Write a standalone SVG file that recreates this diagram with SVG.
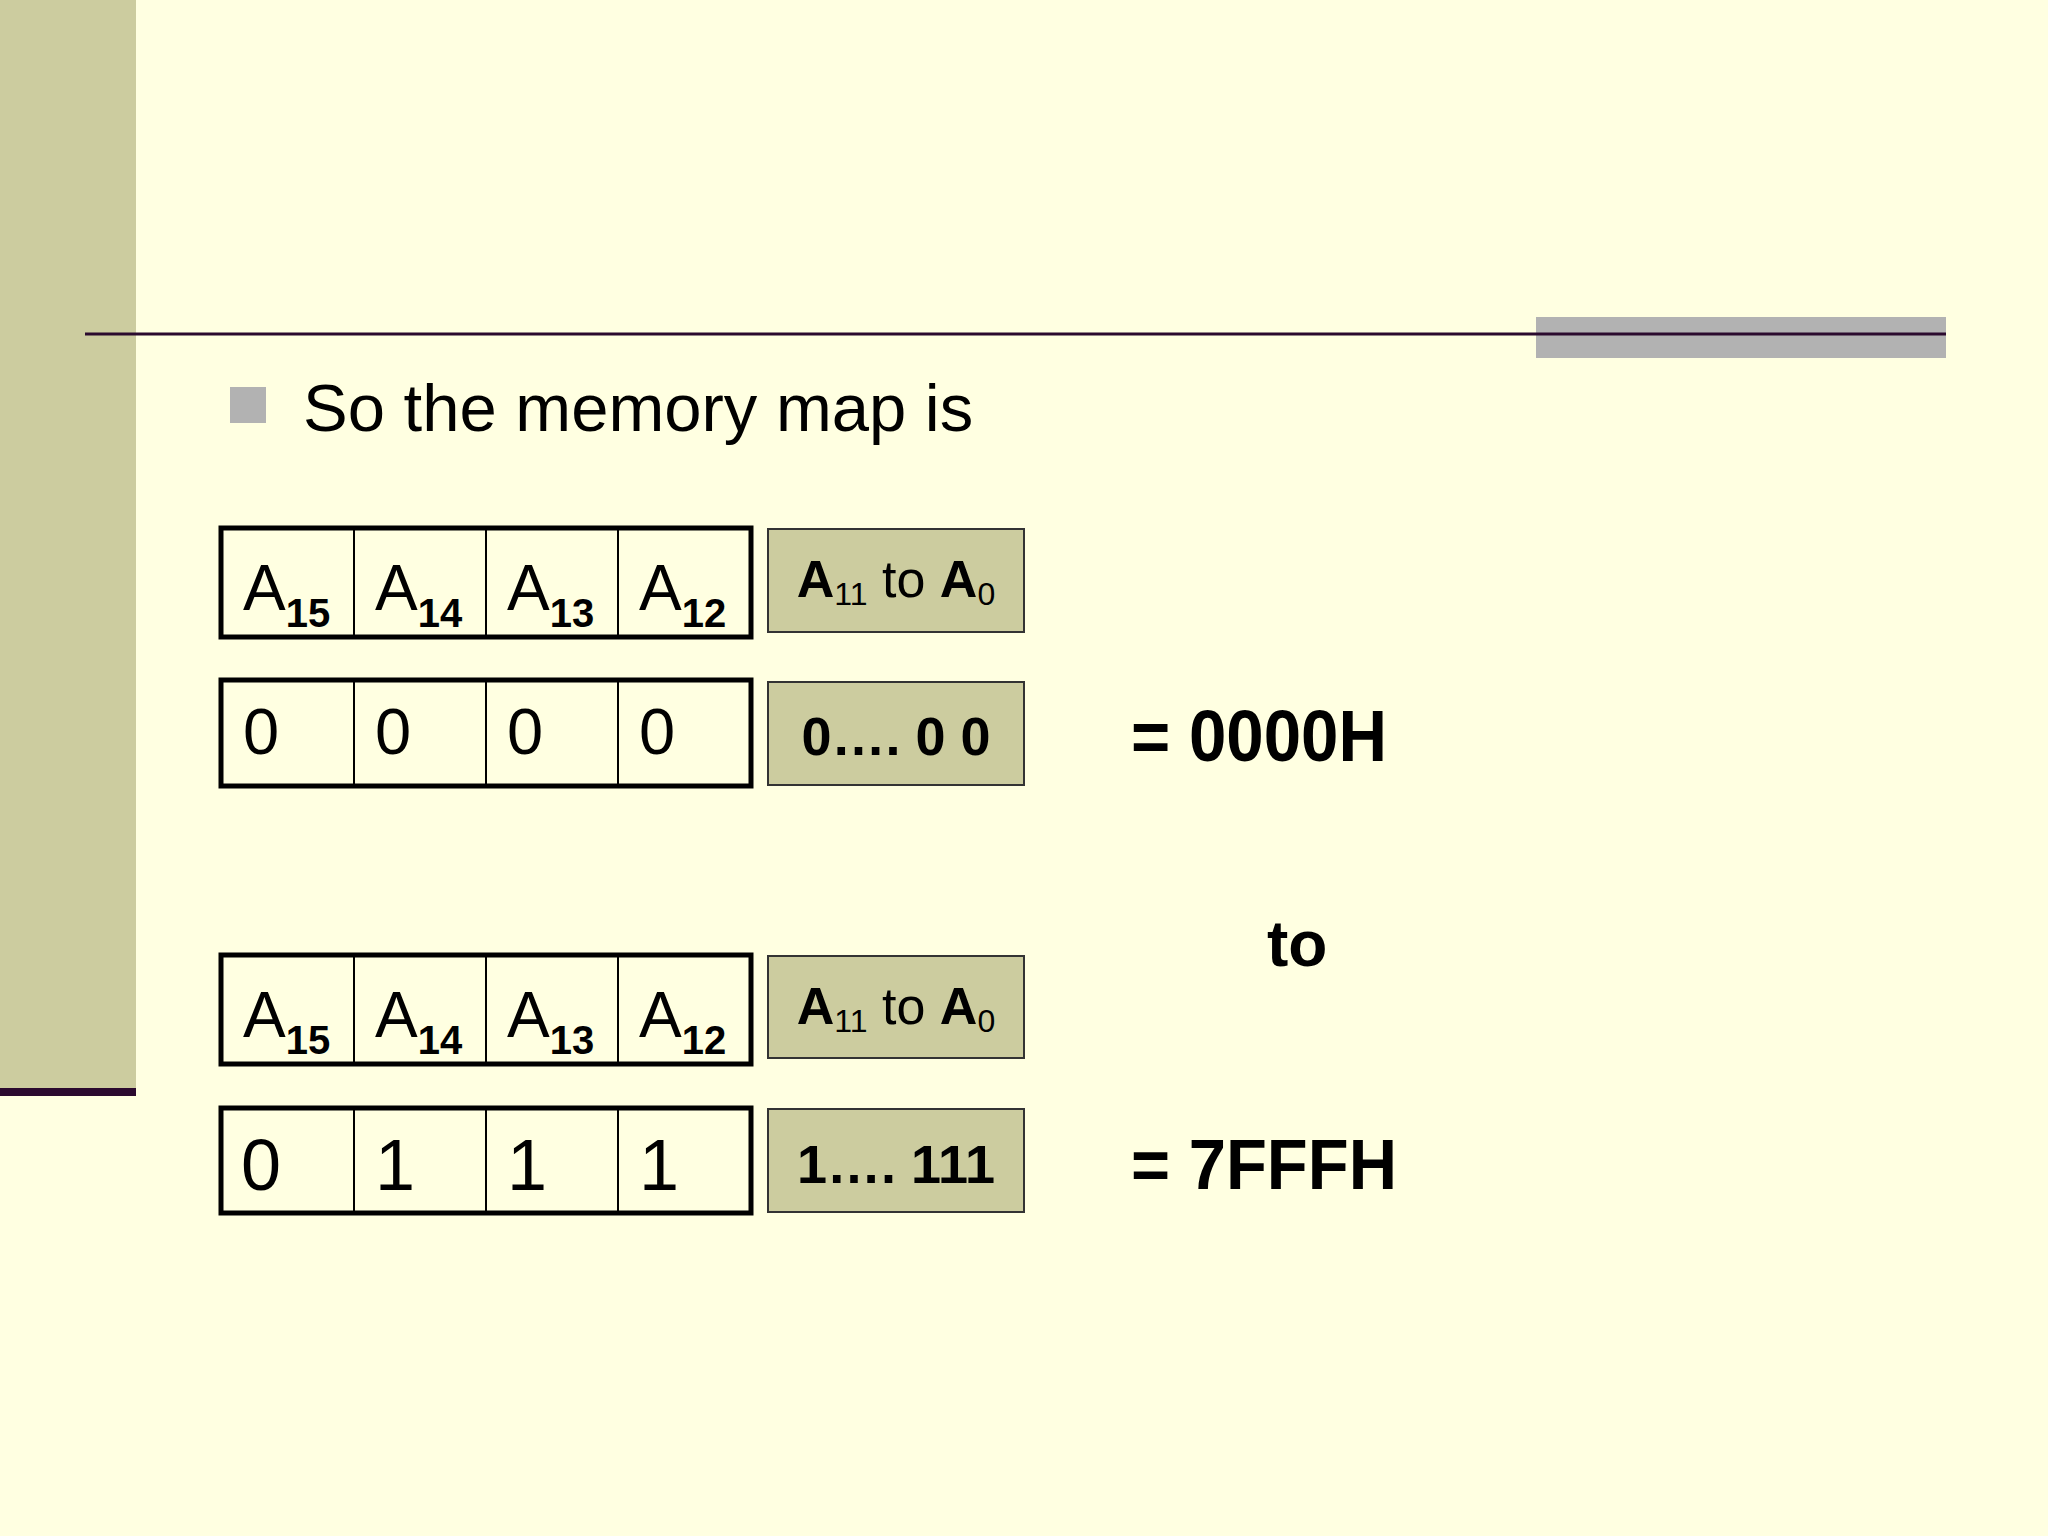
<svg xmlns="http://www.w3.org/2000/svg" width="2048" height="1536" viewBox="0 0 2048 1536">
<style>
.n{font-family:"Liberation Sans Narrow","Liberation Sans",Arial,sans-serif}
.a{font-family:"Liberation Sans",Arial,sans-serif}
.cell{fill:none;stroke:#000;stroke-width:2}
.frame{fill:none;stroke:#000;stroke-width:5}
.g{fill:#CCCC9F;stroke:#333;stroke-width:2}
</style>
<rect width="2048" height="1536" fill="#FFFFE1"/>
<rect x="0" y="0" width="136" height="1088" fill="#CCCC9F"/>
<rect x="0" y="1088" width="136" height="8" fill="#2B0A2E"/>
<rect x="1536" y="317" width="410" height="41" fill="#B2B2B2"/>
<line x1="85" y1="334" x2="1946" y2="334" stroke="#2B0A2E" stroke-width="3"/>
<rect x="230" y="387" width="36" height="36" fill="#B2B2B2"/>
<text x="303" y="431" class="a" font-size="67">So the memory map is</text>

<g id="row1">
<line class="cell" x1="354" y1="528" x2="354" y2="637"/><line class="cell" x1="486" y1="528" x2="486" y2="637"/><line class="cell" x1="618" y1="528" x2="618" y2="637"/>
<rect class="frame" x="221" y="528" width="530" height="109"/>
<g class="n" font-size="64"><text x="243" y="610">A<tspan font-size="40" font-weight="bold" dy="17">15</tspan></text><text x="375" y="610">A<tspan font-size="40" font-weight="bold" dy="17">14</tspan></text><text x="507" y="610">A<tspan font-size="40" font-weight="bold" dy="17">13</tspan></text><text x="639" y="610">A<tspan font-size="40" font-weight="bold" dy="17">12</tspan></text></g>
</g>
<g id="g1"><rect class="g" x="768" y="529" width="256" height="103"/><text x="896" y="597" class="n" font-size="52" text-anchor="middle"><tspan font-weight="bold">A</tspan><tspan font-size="32" dy="8">11</tspan><tspan dy="-8"> to </tspan><tspan font-weight="bold">A</tspan><tspan font-size="32" dy="8">0</tspan></text></g>

<g id="row2">
<line class="cell" x1="354" y1="680" x2="354" y2="786"/><line class="cell" x1="486" y1="680" x2="486" y2="786"/><line class="cell" x1="618" y1="680" x2="618" y2="786"/>
<rect class="frame" x="221" y="680" width="530" height="106"/>
<g class="n" font-size="65"><text x="243" y="754">0</text><text x="375" y="754">0</text><text x="507" y="754">0</text><text x="639" y="754">0</text></g>
</g>
<g id="g2"><rect class="g" x="768" y="682" width="256" height="103"/><text x="896" y="755" class="n" font-size="54" font-weight="bold" text-anchor="middle">0…. 0 0</text></g>
<text id="v1" x="1131" y="761" class="n" font-size="72" font-weight="bold" textLength="256" lengthAdjust="spacingAndGlyphs">= 0000H</text>
<text id="to" x="1267" y="966" class="a" font-size="64" font-weight="bold">to</text>

<g id="row3">
<line class="cell" x1="354" y1="955" x2="354" y2="1064"/><line class="cell" x1="486" y1="955" x2="486" y2="1064"/><line class="cell" x1="618" y1="955" x2="618" y2="1064"/>
<rect class="frame" x="221" y="955" width="530" height="109"/>
<g class="n" font-size="64"><text x="243" y="1037">A<tspan font-size="40" font-weight="bold" dy="17">15</tspan></text><text x="375" y="1037">A<tspan font-size="40" font-weight="bold" dy="17">14</tspan></text><text x="507" y="1037">A<tspan font-size="40" font-weight="bold" dy="17">13</tspan></text><text x="639" y="1037">A<tspan font-size="40" font-weight="bold" dy="17">12</tspan></text></g>
</g>
<g id="g3"><rect class="g" x="768" y="956" width="256" height="102"/><text x="896" y="1024" class="n" font-size="52" text-anchor="middle"><tspan font-weight="bold">A</tspan><tspan font-size="32" dy="8">11</tspan><tspan dy="-8"> to </tspan><tspan font-weight="bold">A</tspan><tspan font-size="32" dy="8">0</tspan></text></g>

<g id="row4">
<line class="cell" x1="354" y1="1108" x2="354" y2="1213"/><line class="cell" x1="486" y1="1108" x2="486" y2="1213"/><line class="cell" x1="618" y1="1108" x2="618" y2="1213"/>
<rect class="frame" x="221" y="1108" width="530" height="105"/>
<g class="a" font-size="72"><text x="241" y="1190">0</text><text x="375" y="1190">1</text><text x="507" y="1190">1</text><text x="639" y="1190">1</text></g>
</g>
<g id="g4"><rect class="g" x="768" y="1109" width="256" height="103"/><text x="896" y="1183" class="a" font-size="54" font-weight="bold" text-anchor="middle">1…. 111</text></g>
<text id="v2" x="1131" y="1189" class="a" font-size="70" font-weight="bold" textLength="266" lengthAdjust="spacingAndGlyphs">= 7FFFH</text>
</svg>
